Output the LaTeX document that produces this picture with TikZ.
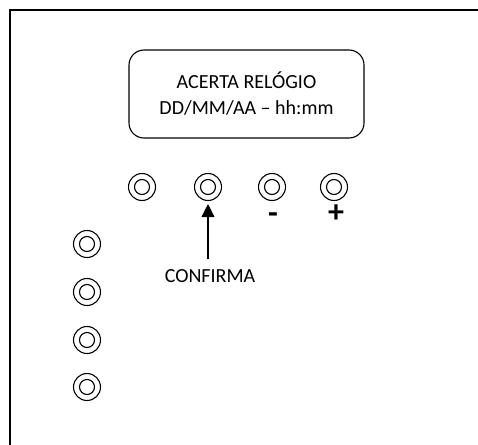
\documentclass[tikz,border=0pt]{standalone}
\usepackage{fontspec}
\setmainfont{Carlito}
\usetikzlibrary{arrows.meta,positioning}

\tikzset{
  botao/.style={draw, circle, line width=1.1pt, minimum size=27pt, inner sep=0pt,
    path picture={\draw[line width=1.1pt] (path picture bounding box.center) circle (7.5pt);}},
  sinal/.style={font=\fontsize{32}{34}\selectfont\bfseries, inner sep=0pt}
}

\begin{document}
\begin{tikzpicture}[x=1pt, y=-1pt]
    \useasboundingbox (0,0) rectangle (478,444);
    \clip (0,0) rectangle (478,444);
    % moldura do painel (cortada a direita e em baixo)
    \draw[line width=1.3pt] (10,10) rectangle (520,480);
    % visor
    \node[draw, rectangle, rounded corners=15pt, line width=1.1pt, minimum width=235pt, minimum height=88pt,
      align=center, font=\fontsize{20}{26}\selectfont] (visor) at (246.5,94) {ACERTA RELÓGIO\\DD/MM/AA -- hh:mm};
    % botoes do visor
    \node[botao] (b1) at (142,187) {};
    \node[botao] (b2) at (208,187) {};
    \node[botao] (b3) at (272,187) {};
    \node[botao] (b4) at (334,187) {};
    \node[sinal] (menos) at (273,218) {-};
    \node[sinal] (mais) at (336,214) {+};
    % seta para confirmar
    \node[font=\fontsize{20}{24}\selectfont, inner xsep=0pt, inner ysep=10pt] (conf) at (210,276) {CONFIRMA};
    \draw[line width=1.1pt, -{Triangle[length=13pt, width=13pt]}, shorten >=3pt] (conf.north -| b2) -- (b2);
    % botoes da esquerda
    \node[botao] (l1) at (87,244) {};
    \node[botao] (l2) at (87,292) {};
    \node[botao] (l3) at (87,340) {};
    \node[botao] (l4) at (87,387) {};
\end{tikzpicture}
\end{document}
